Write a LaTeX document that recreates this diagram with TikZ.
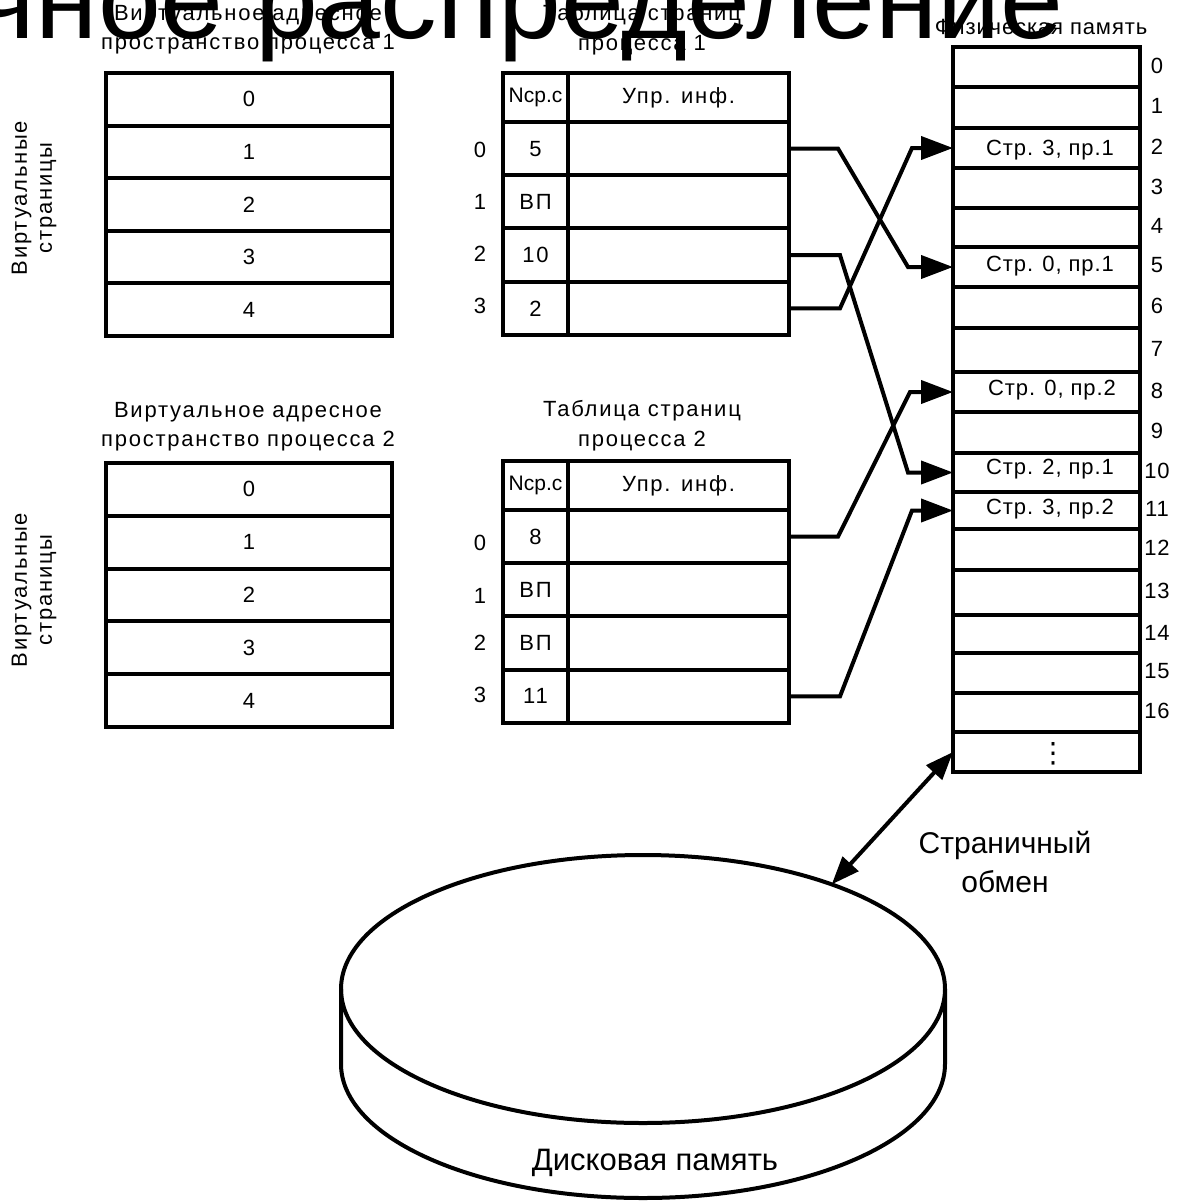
\documentclass[tikz,border=0pt]{standalone}
\usepackage{fontspec}
\setmainfont{Liberation Sans}
\newfontfamily\lsfont[LetterSpace=8]{Liberation Sans}
\newfontfamily\lsnarrow[LetterSpace=4]{Liberation Sans}
\newfontfamily\djvfont{DejaVu Sans}
\usetikzlibrary{arrows.meta,shapes.geometric}
\begin{document}
\begin{tikzpicture}[x=1pt,y=-1pt,
  every node/.style={inner sep=0pt, outer sep=0pt},
  txt/.style={font=\lsfont\fontsize{22}{29}\selectfont, align=center},
  memtxt/.style={font=\lsnarrow\fontsize{22}{29}\selectfont},
  bigtxt/.style={font=\fontsize{30}{39}\selectfont, align=center},
  cell/.style={draw, line width=4pt, font=\lsfont\fontsize{22}{24}\selectfont},
  conn/.style={line width=4pt, line join=miter, -{Triangle[length=32pt,width=23pt]}},
  dconn/.style={line width=4pt, {Triangle[length=28pt,width=21pt]}-{Triangle[length=28pt,width=21pt]}}
]
\useasboundingbox (0,0) rectangle (1178,1202);
\clip (0,0) rectangle (1178,1202);
\fill[white] (0,0) rectangle (1178,1202);

% ---------- virtual address space 1 ----------
\node[txt] (vt1) at (248,30) {Виртуальное адресное\\пространство процесса 1};
\foreach \i in {0,...,4}
  \node[cell, minimum width=286pt, minimum height=52.6pt] (va\i) at (249,{99.3+52.6*\i}) {\i};
\node[txt, rotate=90, font=\lsfont\fontsize{22}{25}\selectfont] (vl1) at (34,198) {Виртуальные\\страницы};

% ---------- virtual address space 2 ----------
\node[txt] (vt2) at (248,426.5) {Виртуальное адресное\\пространство процесса 2};
\foreach \i in {0,...,4}
  \node[cell, minimum width=286pt, minimum height=52.8pt] (vb\i) at (249,{489.4+52.8*\i}) {\i};
\node[txt, rotate=90, font=\lsfont\fontsize{22}{25}\selectfont] (vl2) at (34,590) {Виртуальные\\страницы};

% ---------- page table 1 ----------
\node[txt, font=\lsfont\fontsize{22}{30}\selectfont] (pt1) at (642,30) {Таблица страниц\\процесса 1};
\node[cell, minimum width=65pt, minimum height=49pt, font=\fontsize{21}{21}\selectfont] (t1h) at (535.5,97.5) {Nср.с};
\node[cell, minimum width=221pt, minimum height=49pt] (t1hi) at (678.5,97.5) {Упр. инф.};
\foreach \i/\v in {0/5,1/ВП,2/10,3/2}{
  \node[cell, minimum width=65pt, minimum height=53.25pt] (t1n\i) at (535.5,{148.6+53.25*\i}) {\v};
  \node[cell, minimum width=221pt, minimum height=53.25pt] (t1i\i) at (678.5,{148.6+53.25*\i}) {};
  \node[txt] (t1x\i) at (480,{150+52*\i}) {\i};
}

% ---------- page table 2 ----------
\node[txt, font=\lsfont\fontsize{22}{30}\selectfont] (pt2) at (642,426) {Таблица страниц\\процесса 2};
\node[cell, minimum width=65pt, minimum height=49pt, font=\fontsize{21}{21}\selectfont] (t2h) at (535.5,485.5) {Nср.с};
\node[cell, minimum width=221pt, minimum height=49pt] (t2hi) at (678.5,485.5) {Упр. инф.};
\foreach \i/\v in {0/8,1/ВП,2/ВП,3/11}{
  \node[cell, minimum width=65pt, minimum height=53.25pt] (t2n\i) at (535.5,{536.6+53.25*\i}) {\v};
  \node[cell, minimum width=221pt, minimum height=53.25pt] (t2i\i) at (678.5,{536.6+53.25*\i}) {};
}
\node[txt] (t2x0) at (480,543) {0};
\node[txt] (t2x1) at (480,596) {1};
\node[txt] (t2x2) at (480,643) {2};
\node[txt] (t2x3) at (480,695) {3};

% ---------- physical memory ----------
\node[memtxt] (pm) at (1041,27) {Физическая память};
\foreach \i/\t/\b in {0/47/87,1/87/128,2/128/168,3/168/208,4/208/247,5/247/287,6/287/328,7/328/372,8/372/412,9/412/453,10/453/492,11/492/529,12/529/570,13/570/615,14/615/653,15/653/693,16/693/732,17/732/772}{
  \node[cell, minimum width=187pt, minimum height={(\b-\t)*1pt}] (m\i) at (1046.5,{(\t+\b)/2}) {};
  \ifnum\i<17 \node[memtxt] (mn\i) at (1157,{(\t+\b)/2-1.5}) {\i};\fi
}
\node[memtxt] (ml2) at (1050,150) {Стр. 3, пр.1};
\node[memtxt] (ml5) at (1050,266) {Стр. 0, пр.1};
\node[memtxt] (ml8) at (1052,390) {Стр. 0, пр.2};
\node[memtxt] (ml10) at (1050,469) {Стр. 2, пр.1};
\node[memtxt] (ml11) at (1050,509) {Стр. 3, пр.2};
\node[font=\djvfont\fontsize{28}{28}\selectfont] (mdots) at (1053,754) {⋮};

% ---------- connectors ----------
\draw[conn] (t1i0.east) -- ++(49,0) -- ([xshift=-45pt]m5.west) -- (m5.west);
\draw[conn] (t1i3.east) -- ++(51,0) -- ([xshift=-41pt]m2.west) -- (m2.west);
\draw[conn] (t1i2.east) -- ++(51,0) -- ([xshift=-45pt]m10.west) -- (m10.west);
\draw[conn] (t2i0.east) -- ++(49,0) -- ([xshift=-43pt]m8.west) -- (m8.west);
\draw[conn] (t2i3.east) -- ++(51,0) -- ([xshift=-41pt]m11.west) -- (m11.west);

% ---------- disk ----------
\node[draw, line width=4pt, ellipse, minimum width=604pt, minimum height=268pt] (disk) at (643,989) {};
\draw[line width=4pt] (disk.west) -- ++(0,75) arc[start angle=180, end angle=360, x radius=302pt, y radius=134pt] -- (disk.east);
\node[font=\fontsize{31}{31}\selectfont] (disklbl) at (655,1163) {Дисковая память};

\draw[dconn] (disk.29) -- (m17.west);
\node[bigtxt] (swap) at (1005,862) {Страничный\\обмен};

% ---------- overlaid title ----------
\node[anchor=base east, font=\fontsize{113}{113}\selectfont] (title) at (1064,38) {Страничное распределение};
\end{tikzpicture}
\end{document}
